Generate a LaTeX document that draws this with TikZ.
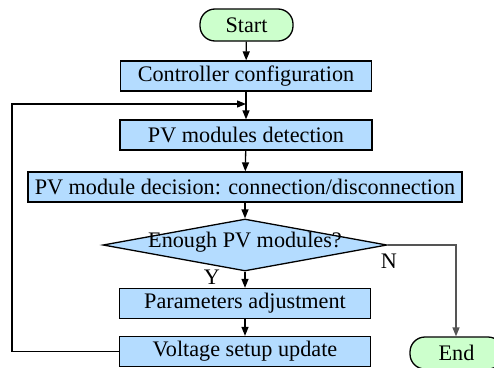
\documentclass[tikz,border=0pt]{standalone}
\usepackage{fontspec}
\setmainfont{Liberation Serif}
\usetikzlibrary{shapes.geometric,arrows.meta}
\definecolor{boxblue}{RGB}{180,220,255}
\definecolor{termgreen}{RGB}{204,255,204}
\definecolor{ngray}{RGB}{85,85,85}
\begin{document}
\begin{tikzpicture}[x=1pt,y=-1pt,
  txt/.style={font=\fontsize{22.2}{24}\selectfont},
  stepbox/.style={draw, line width=1.3pt, fill=boxblue, minimum height=30pt, inner sep=0pt, txt},
  term/.style={draw, line width=1.3pt, fill=termgreen, rounded corners=15pt, minimum width=93pt, minimum height=32pt, inner sep=0pt, txt},
  arr/.style={line width=1.3pt, -{Triangle[length=9pt,width=7pt]}}]
\path[use as bounding box, clip] (0,0) rectangle (494,367);
\node[term] (start) at (246.5,25) {Start};
\node[stepbox, minimum width=251pt] (conf) at (246,76) {Controller configuration};
\node[stepbox, minimum width=252pt] (det) at (246,135) {PV modules detection};
\node[stepbox, minimum width=434pt] (dec) at (245,187) {PV module decision: connection/disconnection};
\node[draw, line width=1.3pt, fill=boxblue, diamond, minimum width=284pt, minimum height=52pt, inner sep=0pt] (dia) at (245,245) {};
\node[txt] (diatext) at (245,242) {Enough PV modules?};
\node[stepbox, minimum width=251pt] (param) at (245,303.5) {Parameters adjustment};
\node[stepbox, minimum width=251pt] (volt) at (245,351.5) {Voltage setup update};
\node[term] (end) at (456.5,353) {End};
\node[txt] (ylab) at (212,277) {Y};
\node[txt] (nlab) at (389,261) {N};
\coordinate (j) at (246,104);
\coordinate (lb) at (12,351.5);
\coordinate (lt) at (12,104);
\coordinate (nr) at (456,245);
\draw[arr] (start) -- (conf);
\draw[arr] (conf) -- (det);
\draw[arr] (det) -- (dec);
\draw[arr] (dec) -- (dia);
\draw[arr] (dia) -- (param);
\draw[arr] (param) -- (volt);
\draw[arr] (volt.west) -- (lb) -- (lt) -- (j);
\draw[arr, ngray] (dia.east) -- (nr) -- (end.north -| nr);
\end{tikzpicture}
\end{document}
